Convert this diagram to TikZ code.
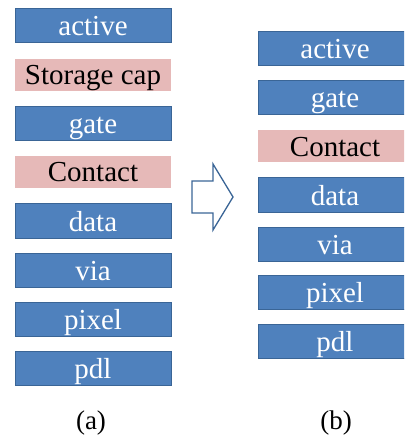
\documentclass[tikz,border=0pt]{standalone}
\usepackage{fontspec}
\setmainfont{Liberation Serif}
\definecolor{layerblue}{HTML}{4F81BD}
\definecolor{layeredge}{HTML}{3A6596}
\definecolor{maskpink}{HTML}{E6B9B8}
\begin{document}
\begin{tikzpicture}[x=1pt, y=-1pt,
  layer/.style={fill=layerblue, draw=layeredge, line width=1pt, text=white,
    minimum height=34pt, inner sep=0pt, font=\fontsize{29}{29}\selectfont,
    text height=24pt, text depth=4pt},
  capbox/.style={fill=maskpink, draw=none, text=black,
    minimum height=32pt, inner sep=0pt, font=\fontsize{29}{29}\selectfont,
    text height=24pt, text depth=4pt}]
\clip (0, 0) rectangle (404, 435);

% (a) original stack
\node[layer,  minimum width=156pt] (a1) at (93, 26)  {active};
\node[capbox, minimum width=156pt] (a2) at (93, 75)  {Storage cap};
\node[layer,  minimum width=156pt] (a3) at (93, 124) {gate};
\node[capbox, minimum width=156pt] (a4) at (93, 172) {Contact};
\node[layer,  minimum width=156pt] (a5) at (93, 221) {data};
\node[layer,  minimum width=156pt] (a6) at (93, 270) {via};
\node[layer,  minimum width=156pt] (a7) at (93, 319) {pixel};
\node[layer,  minimum width=156pt] (a8) at (93, 368) {pdl};

% (b) reduced stack
\node[layer,  minimum width=154pt] (b1) at (335, 49)    {active};
\node[layer,  minimum width=154pt] (b2) at (335, 97.5)  {gate};
\node[capbox, minimum width=154pt] (b3) at (335, 146.5) {Contact};
\node[layer,  minimum width=154pt] (b4) at (335, 195)   {data};
\node[layer,  minimum width=154pt] (b5) at (335, 244)   {via};
\node[layer,  minimum width=154pt] (b6) at (335, 292.5) {pixel};
\node[layer,  minimum width=154pt] (b7) at (335, 341.5) {pdl};

% hollow arrow
\draw[layeredge, line width=1.3pt, line join=miter]
  (192, 181) -- (213, 181) -- (213, 164) -- (233, 197) -- (213, 230)
  -- (213, 213) -- (192, 213) -- cycle;

\node[font=\fontsize{27}{27}\selectfont, anchor=base] (la) at (91, 429)  {(a)};
\node[font=\fontsize{27}{27}\selectfont, anchor=base] (lb) at (336, 429) {(b)};
\end{tikzpicture}
\end{document}
